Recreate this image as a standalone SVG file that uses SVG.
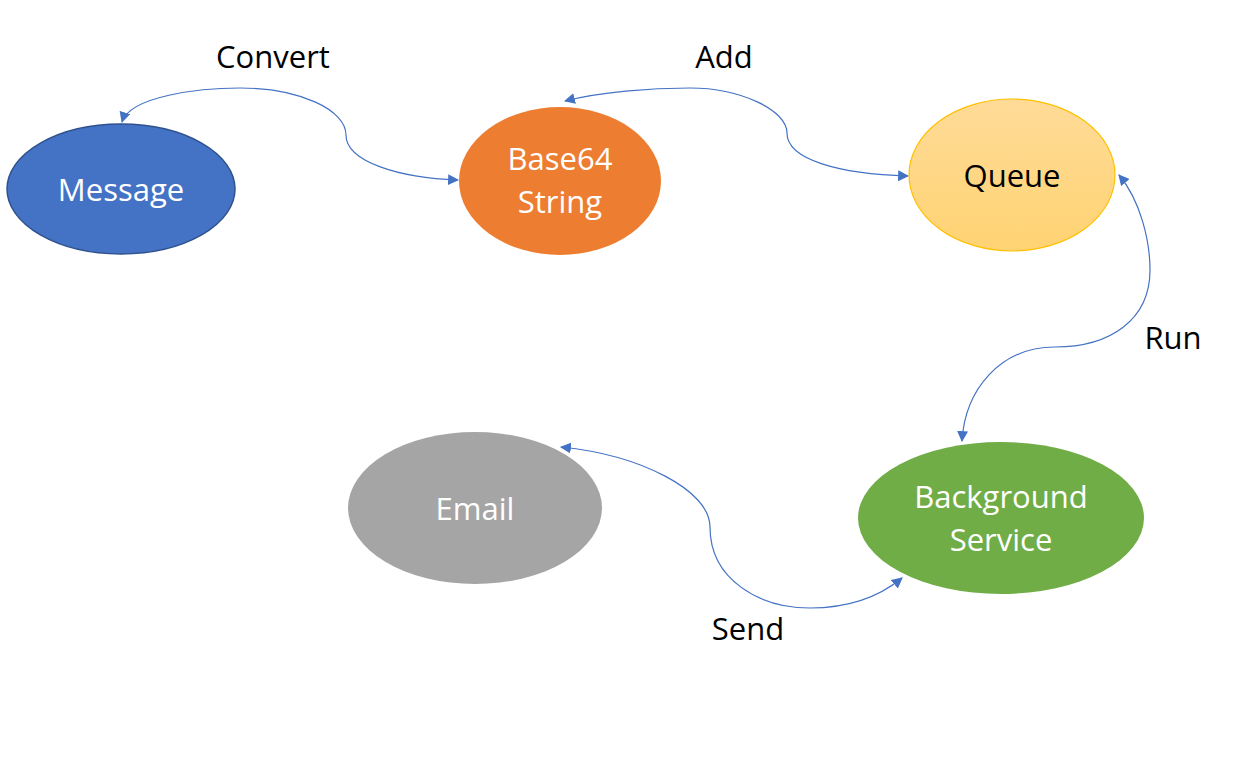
<svg xmlns="http://www.w3.org/2000/svg" width="1248" height="771" viewBox="0 0 1248 771">
<defs>
<linearGradient id="qg" x1="0" y1="0" x2="0" y2="1">
<stop offset="0" stop-color="#FFDB98"/>
<stop offset="1" stop-color="#FFD372"/>
</linearGradient>
<marker id="ah" viewBox="0 0 10 10" refX="9" refY="5" markerWidth="11" markerHeight="11" markerUnits="userSpaceOnUse" orient="auto-start-reverse">
<path d="M0,0 L10,5 L0,10 Z" fill="#4472C4"/>
</marker>
<style>
text{font-family:"Open Sans","Noto Sans","DejaVu Sans",sans-serif;font-size:31px;text-anchor:middle}
.lbl{fill:#000}
.w{fill:#fff}
.conn{fill:none;stroke:#4472C4;stroke-width:1.2;marker-start:url(#ah);marker-end:url(#ah)}
</style>
</defs>
<rect width="1248" height="771" fill="#fff"/>
<g id="connectors">
<path class="conn" d="M122,122 C130,96 200,88 240,88 C300,88 346,110 346,135 C346,162 400,178 458,180"/>
<path class="conn" d="M565,101 C600,92 650,88 690,88 C740,88 787,110 787,133 C787,160 840,174 908,176"/>
<path class="conn" d="M1119,175 C1140,200 1150,240 1150,270 C1150,320 1110,347 1055,347 C1000,347 965,390 962,441"/>
<path class="conn" d="M561,447 C640,455 710,490 710,527 C710,580 760,608 810,608 C850,608 880,596 902,578"/>
</g>
<g id="labels">
<text class="lbl" x="273" y="68">Convert</text>
<text class="lbl" x="724" y="68">Add</text>
<text class="lbl" x="1173" y="349">Run</text>
<text class="lbl" x="748" y="640">Send</text>
</g>
<g id="message">
<ellipse cx="121" cy="189" rx="114" ry="65" fill="#4472C4" stroke="#2F528F" stroke-width="1.5"/>
<text class="w" x="121" y="201">Message</text>
</g>
<g id="base64">
<ellipse cx="560" cy="181" rx="101" ry="74" fill="#ED7D31"/>
<text class="w" x="560" y="170">Base64</text>
<text class="w" x="560" y="213">String</text>
</g>
<g id="queue">
<ellipse cx="1012" cy="175" rx="103" ry="76" fill="url(#qg)" stroke="#FFC000" stroke-width="1.2"/>
<text class="lbl" x="1012" y="187">Queue</text>
</g>
<g id="background-service">
<ellipse cx="1001" cy="518" rx="143" ry="76" fill="#70AD47"/>
<text class="w" x="1001" y="508">Background</text>
<text class="w" x="1001" y="551">Service</text>
</g>
<g id="email">
<ellipse cx="475" cy="508" rx="127" ry="76" fill="#A5A5A5"/>
<text class="w" x="475" y="520">Email</text>
</g>
</svg>
